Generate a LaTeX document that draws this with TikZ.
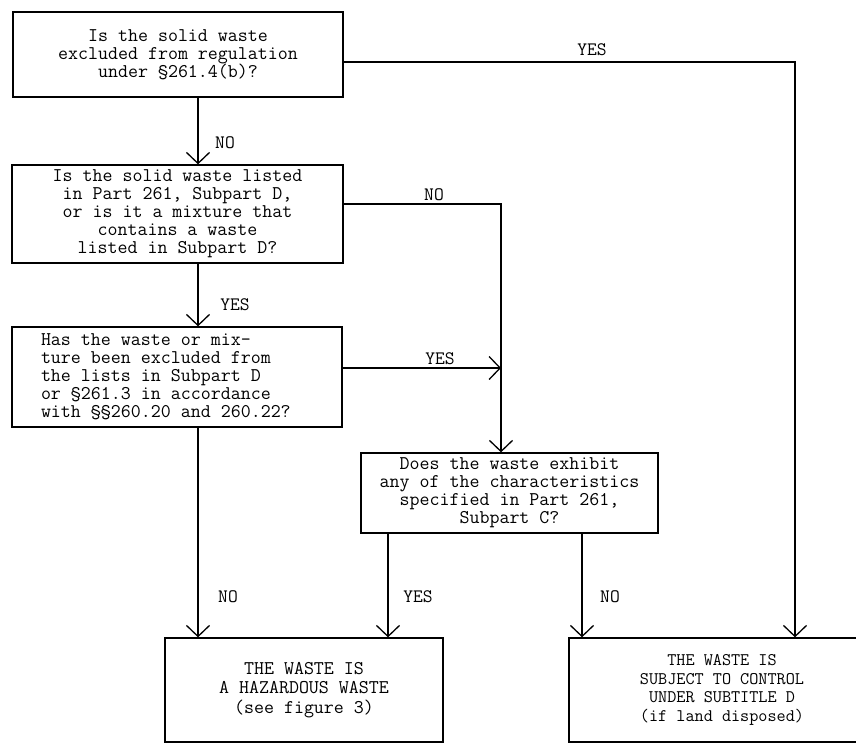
\documentclass[tikz,border=0pt]{standalone}
\usepackage{fontspec}
\setmonofont{Latin Modern Mono}[WordSpace={1,0,0}]
\usetikzlibrary{arrows.meta}
\tikzset{
	qbox/.style={rectangle, draw=black, line width=1.3pt, align=center,
		font=\ttfamily\fontsize{19.4}{18}\selectfont, inner sep=4pt},
	endbox/.style={qbox, minimum height=104pt, font=\ttfamily\fontsize{19.4}{19.5}\selectfont},
	flowarr/.style={-{Straight Barb[length=11pt, width=23pt]}, line width=1.3pt},
	edgelabel/.style={font=\ttfamily\fontsize{19}{19}\selectfont, inner sep=1pt}
}

\begin{document}
\begin{tikzpicture}[x=1pt, y=-1pt]
	\useasboundingbox (0,0) rectangle (856,744);
	\clip (0,0) rectangle (856,744);
	% questions
	\node[qbox, minimum width=330pt, minimum height=85pt] (q1) at (178,54.5)
		{Is the solid waste\\excluded from regulation\\under §261.4(b)?};
	\node[qbox, minimum width=331pt, minimum height=98pt] (q2) at (177.5,214)
		{Is the solid waste listed\\in Part 261, Subpart D,\\or is it a mixture that\\contains a waste\\listed in Subpart D?};
	\node[qbox, minimum width=330pt, minimum height=100pt, text width=272pt, align=left] (q3) at (177,377)
		{\spaceskip=0pt\xspaceskip=0pt\relax
		Has the waste or mix-\\ture been excluded from\\the lists in Subpart D\\or §261.3 in accordance\\with §§260.20 and 260.22?};
	\node[qbox, minimum width=297pt, minimum height=80pt] (q4) at (509.5,493)
		{Does the waste exhibit\\any of the characteristics\\specified in Part 261,\\Subpart C?};
	% results
	\node[endbox, minimum width=278pt] (haz) at (304,690)
		{THE WASTE IS\\A HAZARDOUS WASTE\\(see figure 3)};
	\node[endbox, minimum width=306pt, font=\ttfamily\fontsize{17.7}{18.7}\selectfont] (ctrl) at (722,690)
		{THE WASTE IS\\SUBJECT TO CONTROL\\UNDER SUBTITLE D\\(if land disposed)};
	% bends and columns
	\coordinate (yesR) at (795,62);
	\coordinate (noR) at (501,204);
	\coordinate (yesM) at (501,368);
	\coordinate (colA) at (198,0);
	\coordinate (colB) at (388,0);
	\coordinate (colC) at (582,0);
	% connectors
	\draw[flowarr] (q1.east |- yesR) -- (yesR) -- (ctrl.north -| yesR);
	\draw[flowarr] (q1.south -| colA) -- (q2.north -| colA);
	\draw[flowarr] (q2.east |- noR) -- (noR) -- (q4.north -| noR);
	\draw[flowarr] (q2.south -| colA) -- (q3.north -| colA);
	\draw[flowarr] (q3.east |- yesM) -- (yesM);
	\draw[flowarr] (q3.south -| colA) -- (haz.north -| colA);
	\draw[flowarr] (q4.south -| colB) -- (haz.north -| colB);
	\draw[flowarr] (q4.south -| colC) -- (ctrl.north -| colC);
	% labels
	\node[edgelabel] (l1) at (592,50) {YES};
	\node[edgelabel] (l2) at (225,143) {NO};
	\node[edgelabel] (l3) at (434,195) {NO};
	\node[edgelabel] (l4) at (235,305) {YES};
	\node[edgelabel] (l5) at (440,359) {YES};
	\node[edgelabel] (l6) at (228,597) {NO};
	\node[edgelabel] (l7) at (418,597) {YES};
	\node[edgelabel] (l8) at (610,597) {NO};
\end{tikzpicture}
\end{document}
